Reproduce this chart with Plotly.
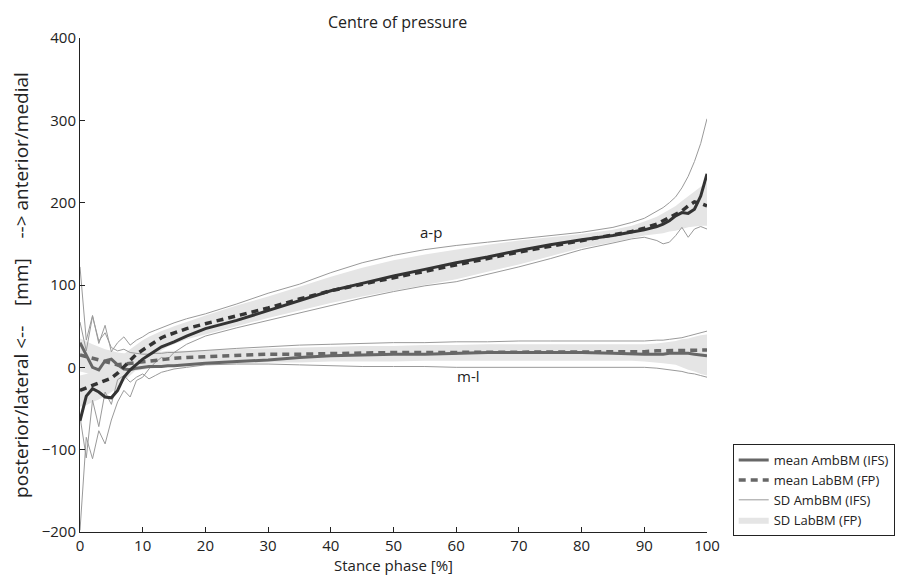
import plotly.graph_objects as go

# Stance phase grid [%]
stance = [0,1,2,3,4,5,6,7,8,9,10,11,12,13,14,15,17,20,25,30,35,40,45,50,55,60,65,70,75,80,85,88,90,92,93,94,95,96,97,98,99,100]

# a-p direction
ap_mean_amb = [-65,-35,-26,-30,-36,-37,-28,-12,-3,4,10,15,20,25,28,31,38,47,57,69,81,93,102,111,119,127,134,142,149,155,160,164,167,171,174,178,184,188,187,192,208,235]
ap_mean_lab = [-28,-25,-22,-19,-17,-13,-7,1,9,16,21,26,31,36,39,42,47,53,62,72,83,93,101,109,117,125,132,140,147,154,160,165,169,174,178,182,186,190,196,201,199,196]
ap_sd_amb_hi = [122,33,63,29,51,19,30,37,27,33,37,42,45,48,51,54,59,65,77,90,101,115,127,136,143,148,152,156,160,164,170,176,181,189,194,200,207,218,232,250,272,302]
ap_sd_amb_lo = [-198,-85,-111,-77,-93,-64,-42,-28,-36,-16,-12,-2,6,12,10,18,28,38,48,57,66,75,84,92,99,104,113,122,132,143,151,156,158,154,150,152,160,170,158,168,171,168]
ap_sd_lab_hi = [-10,-8,-5,-2,0,5,10,16,22,28,33,37,41,44,47,50,55,63,75,86,98,110,121,130,137,143,149,154,158,162,167,172,177,183,187,191,196,202,208,214,220,225]
ap_sd_lab_lo = [-48,-46,-42,-39,-35,-30,-25,-17,-10,-2,5,11,16,21,25,28,34,40,50,60,69,78,86,93,100,107,116,125,135,145,152,157,160,162,163,165,166,168,170,171,172,172]

# m-l direction
ml_mean_amb = [30,15,0,-3,8,10,3,-2,-3,-1,0,1,1,1,2,2,3,5,7,9,12,14,15,16,16,17,18,18,18,18,17,16,16,16,16,17,17,17,17,16,15,14]
ml_mean_lab = [15,13,10,8,6,4,3,4,5,6,7,8,9,10,10,11,12,13,14,16,16,17,17,18,18,18,19,19,19,19,19,19,19,20,20,20,20,20,21,21,21,21]
ml_sd_amb_hi = [55,20,62,32,42,24,20,22,18,17,16,16,17,17,18,18,19,21,23,25,27,28,29,30,30,31,31,32,32,32,32,32,32,33,33,34,35,36,38,40,42,44]
ml_sd_amb_lo = [-60,-110,-40,-72,-30,-45,-15,-10,-18,-12,-8,-14,-10,-6,-4,-2,0,3,4,4,3,2,1,1,1,0,0,0,0,0,0,0,0,-1,-2,-3,-4,-5,-7,-8,-10,-12]
ml_sd_lab_hi = [35,31,28,25,22,20,18,17,17,17,18,18,19,19,20,20,20,21,22,23,24,25,26,26,27,27,28,28,28,28,28,28,28,29,30,31,32,34,35,37,39,40]
ml_sd_lab_lo = [-5,-7,-8,-9,-10,-9,-8,-6,-5,-4,-3,-2,-1,0,0,1,2,3,5,6,6,7,7,7,8,8,8,8,8,8,8,8,7,6,5,4,3,0,-3,-5,-8,-10]

x_ticks = [0,10,20,30,40,50,60,70,80,90,100]
y_ticks = [-200,-100,0,100,200,300,400]

FILL = "#e5e5e5"
THIN = "#9a9a9a"
DARK = "#333333"
MID = "#676767"
DASH = "7px,5px"

fig = go.Figure()

# SD LabBM fills
for lo, hi, leg in [(ap_sd_lab_lo, ap_sd_lab_hi, False), (ml_sd_lab_lo, ml_sd_lab_hi, True)]:
    fig.add_trace(go.Scatter(x=stance, y=lo, mode="lines", line=dict(width=0, color=FILL),
                             showlegend=False, hoverinfo="skip"))
    fig.add_trace(go.Scatter(x=stance, y=hi, mode="lines", line=dict(width=0, color=FILL),
                             fill="tonexty", fillcolor=FILL, name="SD LabBM (FP)",
                             showlegend=leg, legendrank=4))

# SD AmbBM thin lines
for arr, leg in [(ap_sd_amb_hi, False), (ap_sd_amb_lo, False), (ml_sd_amb_hi, True), (ml_sd_amb_lo, False)]:
    fig.add_trace(go.Scatter(x=stance, y=arr, mode="lines", line=dict(width=1, color=THIN),
                             name="SD AmbBM (IFS)", showlegend=leg, legendrank=3))

# means
fig.add_trace(go.Scatter(x=stance, y=ml_mean_lab, mode="lines", line=dict(width=3.5, color=MID, dash=DASH),
                         name="mean LabBM (FP)", showlegend=True, legendrank=2))
fig.add_trace(go.Scatter(x=stance, y=ml_mean_amb, mode="lines", line=dict(width=3, color=MID),
                         name="mean AmbBM (IFS)", showlegend=True, legendrank=1))
fig.add_trace(go.Scatter(x=stance, y=ap_mean_lab, mode="lines", line=dict(width=3.5, color=DARK, dash=DASH),
                         showlegend=False))
fig.add_trace(go.Scatter(x=stance, y=ap_mean_amb, mode="lines", line=dict(width=3, color=DARK),
                         showlegend=False))

FONT = "Open Sans, Noto Sans, sans-serif"

fig.add_annotation(x=56, y=164, text="a-p", showarrow=False, font=dict(size=15, color="#222", family=FONT))
fig.add_annotation(x=62, y=-11, text="m-l", showarrow=False, font=dict(size=15, color="#222", family=FONT))

fig.update_layout(
    width=906, height=577,
    paper_bgcolor="white", plot_bgcolor="white",
    margin=dict(l=68, r=207, t=30, b=53),
    font=dict(family=FONT, size=14, color="#222"),
    title=dict(text="Centre of pressure", x=0.43, xanchor="center", y=0.985, yanchor="top",
               font=dict(size=16, color="#222", family=FONT)),
    showlegend=True,
    legend=dict(x=1.041, y=0.178, xanchor="left", yanchor="top", traceorder="normal",
                bordercolor="#222", borderwidth=1, bgcolor="white",
                font=dict(size=13, color="#222", family=FONT),
                tracegroupgap=0, itemwidth=30),
    xaxis=dict(range=[0, 100], tickvals=x_ticks, ticks="inside", ticklen=5, tickcolor="#222",
               showline=True, linecolor="#222", linewidth=1, showgrid=False, zeroline=False,
               title=dict(text="Stance phase [%]", standoff=4, font=dict(size=15)),
               tickfont=dict(size=15)),
    yaxis=dict(range=[-200, 400], tickvals=y_ticks, ticks="inside", ticklen=5, tickcolor="#222",
               showline=True, linecolor="#222", linewidth=1, showgrid=False, zeroline=False,
               title=dict(text="posterior/lateral <--    [mm]    --> anterior/medial", standoff=8,
                          font=dict(size=19)),
               tickfont=dict(size=15)),
)

fig.write_html("out.html")
